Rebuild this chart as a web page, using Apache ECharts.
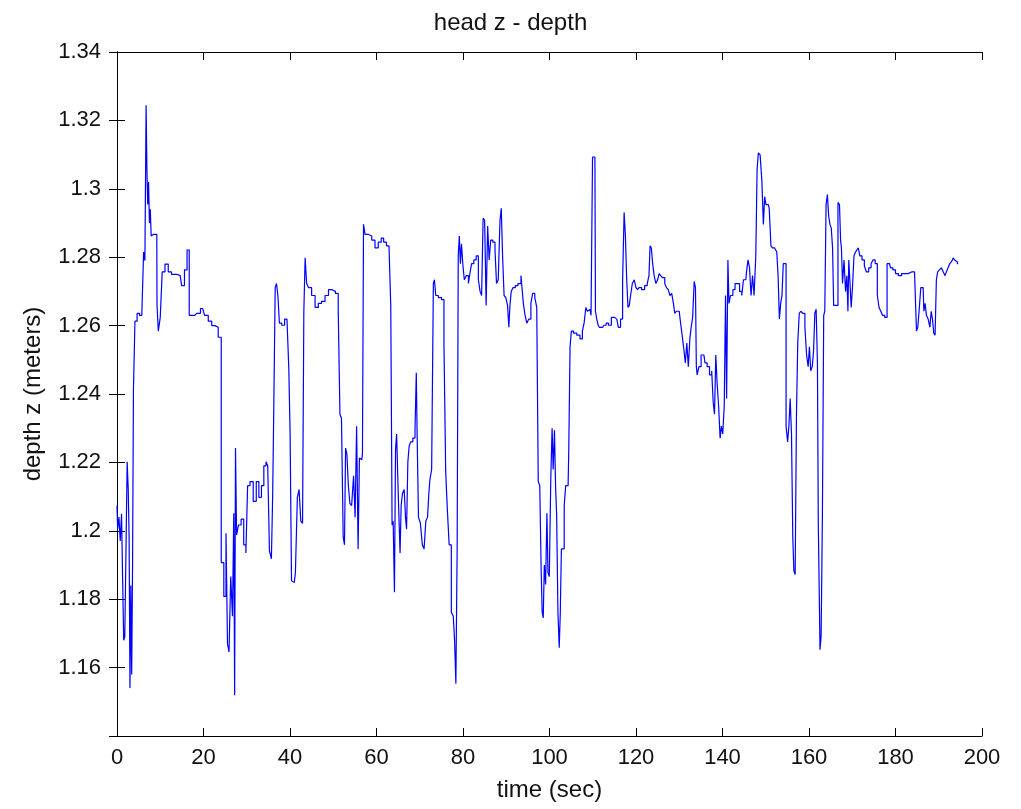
<!DOCTYPE html>
<html>
<head>
<meta charset="utf-8">
<script src="https://cdn.jsdelivr.net/npm/echarts@6/dist/echarts.min.js"></script>
<style>
html,body{margin:0;padding:0;background:#fff;}
#chart{width:1021px;height:809px;}
</style>
</head>
<body>
<div id="chart"></div>
<script>
// time (sec)
var timeSec = [
0,0.3,0.6,0.9,1.2,1.4,1.7,1.9,2.2,2.5,2.7,2.9,3.1,3.3,3.5,3.7,3.9,4.4,4.9,5.5,6.0,6.3,6.6,6.86,7.0,7.2,7.4,7.6,7.8,8.0,8.5,9.2,9.3,9.8,10.2,10.7,11.5,12.2,13.0,14.6,15.3,15.9,16.5,16.9,18.0,18.8,19.8,20.7,21.5,22.3,23.0,23.8,24.4,25.0,25.4,25.7,26.1,26.5,26.9,27.1,27.3,27.5,27.8,28.4,29.0,29.6,30.0,30.4,31.1,31.9,
32.5,33.1,33.7,34.2,34.7,35.0,35.5,35.9,36.1,36.4,36.76,37.0,37.4,37.7,38.5,39.0,39.6,39.85,40.2,40.5,41.0,41.5,41.9,42.3,42.7,43.1,43.3,43.7,44.0,44.6,45.4,46.2,46.9,47.7,48.5,49.3,50.1,50.9,51.4,51.7,52.1,52.5,52.7,53.0,53.3,53.7,54.0,54.5,54.9,55.2,55.6,55.9,56.2,56.6,56.9,57.1,57.6,58.5,59.3,60.0,60.8,61.4,61.9,62.7,63.1,63.5,63.7,64.0,64.3,64.5,64.8,
65.3,65.6,65.8,66.2,66.6,66.8,67.1,67.4,67.7,68.1,68.7,69.1,69.3,69.5,69.9,70.4,70.8,71.2,71.6,72.0,72.2,72.5,73.0,73.3,73.5,73.9,74.7,75.4,75.8,76.2,76.6,77.0,77.6,77.9,78.2,78.5,78.8,79.0,79.3,79.5,79.8,80.1,80.5,81.0,81.5,81.8,82.2,82.8,83.3,83.8,84.1,84.5,84.8,85.2,85.5,85.9,86.2,86.6,87.2,87.6,87.9,88.4,88.7,89.0,89.3,89.7,90.1,90.5,90.7,91.0,91.3,91.8,92.4,93.0,93.8,94.1,94.6,94.9,95.5,95.9,96.3,96.9,97.2,
97.6,97.9,98.2,98.4,98.7,98.9,99.3,99.5,99.8,100.1,100.5,100.7,101.0,101.3,101.5,101.8,102.1,102.4,102.6,102.9,103.2,103.6,103.9,104.3,104.6,104.9,105.2,105.9,106.7,107.4,107.8,108.2,108.6,108.9,109.4,109.8,110.1,110.5,110.75,111.1,111.4,111.7,112.3,112.8,113.4,113.9,114.7,115.4,115.7,116.15,116.7,117.1,117.4,117.7,118.0,118.3,118.6,118.9,119.4,119.8,120.2,120.5,120.9,121.7,122.3,122.9,123.1,123.4,123.7,124.0,124.4,124.8,125.2,125.5,125.9,126.4,126.9,127.2,127.7,128.0,128.5,128.8,129.1,129.6,
130.0,130.3,130.8,131.2,131.6,131.9,132.3,132.6,132.9,133.3,133.6,133.9,134.0,134.3,134.8,135.3,135.7,136.2,136.7,137.3,137.7,138.0,138.3,138.6,138.9,139.3,139.6,139.9,140.2,140.6,140.8,141.1,141.4,141.6,142.1,142.7,143.1,143.7,144.2,144.7,145.0,145.4,145.7,146.1,146.4,146.8,147.1,147.5,147.9,148.1,148.5,148.9,149.3,149.6,149.9,150.2,150.6,151.0,151.4,151.7,152.4,152.7,153.0,153.3,153.6,153.9,154.2,154.5,154.9,155.2,155.5,155.8,156.1,156.4,156.6,157.0,157.2,157.6,157.9,158.3,158.8,159.3,159.6,160.0,160.2,160.6,160.9,161.2,161.5,161.8,162.1,
162.2,162.4,162.7,162.9,163.3,163.5,163.8,164.1,164.4,164.7,165.0,165.3,165.6,165.8,166.2,166.5,166.9,167.2,167.4,167.6,167.9,168.3,168.6,168.9,169.1,169.3,169.6,169.9,170.2,170.6,170.9,171.2,171.6,171.9,172.6,173.0,173.5,174.1,174.6,175.0,175.6,176.0,176.4,176.8,177.2,177.8,178.3,178.6,179.1,179.7,180.3,181.0,181.8,182.6,183.3,184.1,184.7,185.0,185.3,185.6,186.1,186.4,186.7,187.0,187.3,187.8,188.1,188.4,188.7,189.0,189.3,189.6,189.9,190.4,190.8,191.3,191.6,191.9,192.4,192.7,193.2,193.5,193.8,194.1,194.5
];
// depth z (meters)
var depthZ = [
1.2074,1.2005,1.204,1.197,1.205,1.186,1.168,1.169,1.192,1.2202,1.212,1.198,1.154,1.184,1.158,1.190,1.241,1.2613,1.2636,1.263,1.2636,1.2815,1.279,1.3244,1.3047,1.2954,1.302,1.290,1.294,1.2862,1.2867,1.2867,1.266,1.2584,1.2624,1.2757,1.278,1.2757,1.275,1.2746,1.2717,1.2763,1.2821,1.263,1.263,1.2636,1.265,1.263,1.2613,1.260,1.2595,1.2566,1.1907,1.1808,1.1993,1.1669,1.1646,1.1866,1.175,1.2051,1.1519,1.2242,1.1988,1.2017,1.2034,1.1959,1.1935,1.2132,1.2144,1.2086,
1.2144,1.2098,1.2132,1.219,1.2202,1.219,1.1941,1.1918,1.2109,1.2358,1.2711,1.2723,1.2688,1.2607,1.2601,1.2619,1.2624,1.2474,1.2283,1.1854,1.1849,1.1878,1.2098,1.2121,1.2028,1.2022,1.2642,1.2798,1.2723,1.2711,1.2688,1.2653,1.2665,1.2671,1.2688,1.2705,1.27,1.2694,1.2647,1.2341,1.2329,1.1982,1.1959,1.2242,1.2225,1.2132,1.208,1.2074,1.2161,1.204,1.2306,1.1947,1.2213,1.2208,1.2225,1.2896,1.2867,1.2862,1.285,1.2827,1.2844,1.2856,1.2844,1.2833,1.2827,1.2659,1.2017,1.2028,1.182,1.2236,1.2283,
1.2098,1.1935,1.2074,1.2109,1.2121,1.204,1.2005,1.2202,1.2248,1.226,1.2271,1.2294,1.2462,1.2277,1.204,1.2022,1.1959,1.1947,1.2028,1.204,1.2109,1.215,1.2179,1.2723,1.2734,1.2688,1.2682,1.2676,1.2543,1.2173,1.2057,1.1959,1.1762,1.175,1.1681,1.1553,1.1947,1.2804,1.2862,1.2781,1.2839,1.2781,1.2734,1.2746,1.2723,1.2757,1.2781,1.2792,1.2804,1.2734,1.27,1.2688,1.2914,1.2908,1.2659,1.2891,1.2792,1.285,1.2844,1.2821,1.2723,1.2734,1.2908,1.2943,1.2804,1.2688,1.2682,1.2659,1.2595,1.2659,1.27,1.2711,1.2717,1.2723,1.2746,1.2665,1.263,1.2607,1.2619,1.2665,1.2694,1.2682,1.2653,
1.2144,1.2132,1.19,1.1762,1.1745,1.19,1.1843,1.2051,1.1878,1.1866,1.2155,1.23,1.2179,1.2294,1.2132,1.2046,1.1762,1.1658,1.1762,1.1947,1.1947,1.2074,1.2132,1.2132,1.2231,1.2538,1.2584,1.2578,1.2572,1.2561,1.2584,1.2607,1.2653,1.2642,1.2647,1.263,1.3093,1.3093,1.2642,1.2619,1.2601,1.2595,1.2595,1.2601,1.2607,1.2601,1.2624,1.2624,1.2619,1.2595,1.2619,1.2729,1.2931,1.2862,1.2734,1.2653,1.2659,1.2688,1.2723,1.2734,1.2711,1.2705,1.2711,1.2705,1.2717,1.2723,1.2746,1.2833,1.2827,1.2781,1.2746,1.2723,1.2734,1.2752,1.2746,1.274,1.2723,1.2711,1.2705,1.2688,1.2694,1.2665,1.2636,1.2642,
1.2642,1.2624,1.2584,1.2538,1.2491,1.2549,1.248,1.2561,1.2595,1.2624,1.2729,1.2711,1.248,1.2456,1.248,1.2514,1.2514,1.2491,1.248,1.2456,1.2468,1.2375,1.2341,1.2514,1.2433,1.2364,1.2271,1.2306,1.2283,1.2364,1.2688,1.2387,1.2792,1.2665,1.2688,1.2705,1.2723,1.2723,1.27,1.2688,1.2734,1.2734,1.2757,1.2792,1.2769,1.2688,1.2746,1.2688,1.2804,1.3058,1.3105,1.3099,1.3024,1.2896,1.2977,1.2954,1.2954,1.2943,1.2833,1.2827,1.2827,1.2815,1.2746,1.2619,1.2665,1.2688,1.2781,1.2781,1.2306,1.226,1.2306,1.2387,1.2283,1.1982,1.1883,1.1872,1.2341,1.2549,1.2636,1.2642,1.2636,1.2595,1.2514,1.248,1.2538,1.2468,1.248,1.2526,1.2636,1.2648,1.2491,
1.2022,1.2017,1.1652,1.1692,1.2046,1.263,1.2642,1.2954,1.2983,1.292,1.2896,1.2885,1.2827,1.2659,1.2659,1.2659,1.296,1.2954,1.285,1.2827,1.2723,1.2792,1.27,1.2746,1.2642,1.2792,1.2734,1.2653,1.2711,1.2804,1.2815,1.2821,1.2827,1.2804,1.2792,1.2775,1.2757,1.2769,1.2781,1.2792,1.2781,1.2688,1.2653,1.2642,1.263,1.2624,1.2781,1.2781,1.2769,1.2763,1.2752,1.2746,1.2752,1.2752,1.2757,1.2757,1.2757,1.2584,1.2595,1.2642,1.2711,1.2711,1.2642,1.2665,1.263,1.2619,1.2595,1.2642,1.2619,1.2578,1.2572,1.2734,1.2757,1.2763,1.2769,1.2757,1.2746,1.2757,1.2769,1.2781,1.2787,1.2798,1.2792,1.2787,1.2781
];
var xTicks = [0,20,40,60,80,100,120,140,160,180,200];
var yTicks = [1.16,1.18,1.2,1.22,1.24,1.26,1.28,1.3,1.32,1.34];

var pts = timeSec.map(function(t,i){return [t, depthZ[i]];});
var FONT = 'Liberation Sans';
var chart = echarts.init(document.getElementById('chart'), null, {renderer:'canvas'});
var axLine = {show:true, lineStyle:{color:'#000', width:1}};
var tickIn = {show:true, inside:true, length:8, lineStyle:{color:'#000', width:1}};
chart.setOption({
  backgroundColor:'#fff',
  animation:false,
  title:{text:'head z - depth', left:'center', top:6,
    textStyle:{fontFamily:FONT, fontSize:24, fontWeight:'normal', color:'#111'}},
  grid:{left:117, right:39, top:52, bottom:73},
  xAxis:[{
    type:'value', min:0, max:200, interval:20, position:'bottom',
    name:'time (sec)', nameLocation:'middle', nameGap:42,
    nameTextStyle:{fontFamily:FONT, fontSize:24, color:'#111'},
    axisLine:axLine, axisTick:tickIn, splitLine:{show:false},
    axisLabel:{fontFamily:FONT, fontSize:22, color:'#111', margin:11,
      formatter:function(v){return xTicks.indexOf(v)>=0? String(v):'';}}
  },{
    type:'value', min:0, max:200, interval:20, position:'top',
    axisLine:axLine, axisTick:tickIn, axisLabel:{show:false}, splitLine:{show:false}
  }],
  yAxis:[{
    type:'value', min:1.14, max:1.34, interval:0.02, position:'left',
    name:'depth z (meters)', nameLocation:'middle', nameGap:72, nameRotate:90,
    nameTextStyle:{fontFamily:FONT, fontSize:24, color:'#111'},
    axisLine:axLine, axisTick:tickIn, splitLine:{show:false},
    axisLabel:{fontFamily:FONT, fontSize:22, color:'#111', margin:16,
      formatter:function(v){
        var r = Math.round(v*100)/100;
        for (var i=0;i<yTicks.length;i++){ if (Math.abs(yTicks[i]-r)<1e-6) return String(yTicks[i]); }
        return '';
      }}
  },{
    type:'value', min:1.14, max:1.34, interval:0.02, position:'right',
    axisLine:axLine, axisTick:tickIn, axisLabel:{show:false}, splitLine:{show:false}
  }],
  series:[{
    type:'line', data:pts, xAxisIndex:0, yAxisIndex:0, step:'middle',
    showSymbol:false, symbol:'none',
    lineStyle:{color:'#0000ff', width:1.2},
    silent:true
  }]
});
</script>
</body>
</html>
